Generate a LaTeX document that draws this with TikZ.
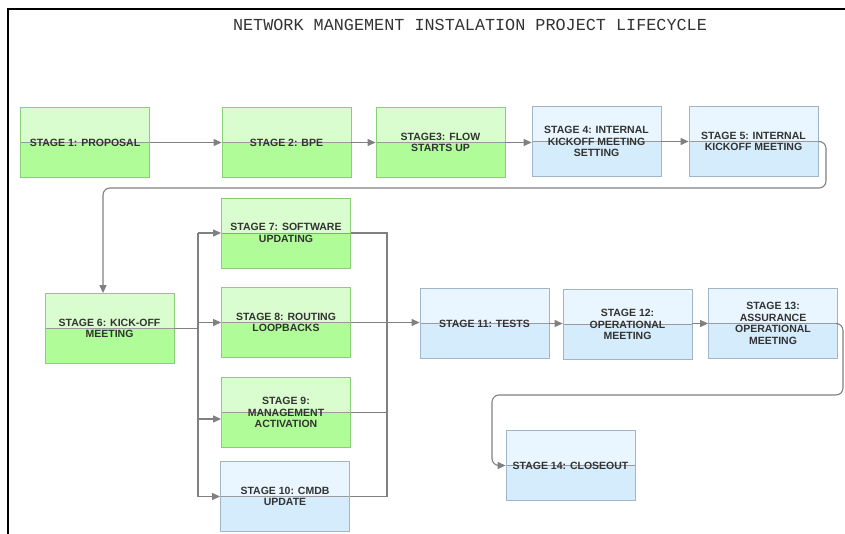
\documentclass[tikz,border=0pt]{standalone}
\usepackage{fontspec}
\setmainfont{Liberation Sans}
\newfontfamily\titlefont{Liberation Mono}
\usetikzlibrary{arrows.meta,calc}
\definecolor{gtop}{RGB}{217,253,206}
\definecolor{gbot}{RGB}{176,252,152}
\definecolor{gbord}{RGB}{140,205,120}
\definecolor{btop}{RGB}{233,246,255}
\definecolor{bbot}{RGB}{212,236,252}
\definecolor{bbord}{RGB}{160,182,198}
\definecolor{conn}{RGB}{128,128,128}
\definecolor{txt}{RGB}{51,51,51}
\tikzset{
  box/.style={rectangle, minimum width=129pt, minimum height=70pt, inner sep=2pt,
    align=center, text=txt, font=\bfseries\fontsize{10.5}{11.5}\selectfont, line width=0.8pt},
  greenbox/.style={box, draw=gbord, fill=gbot,
    path picture={\fill[gtop] (path picture bounding box.north west) rectangle (path picture bounding box.east);
      \draw[conn!80, line width=0.5pt] (path picture bounding box.west) -- (path picture bounding box.east);}},
  bluebox/.style={box, draw=bbord, fill=bbot,
    path picture={\fill[btop] (path picture bounding box.north west) rectangle (path picture bounding box.east);
      \draw[conn!80, line width=0.5pt] (path picture bounding box.west) -- (path picture bounding box.east);}},
  connector/.style={draw=conn, line width=1.1pt},
  arrowed/.style={connector, -{Triangle[length=8pt,width=7pt]}},
}
\begin{document}
\begin{tikzpicture}[x=1pt,y=-1pt]
\useasboundingbox (0,0) rectangle (845,534);
\draw[line width=2pt] (8,534) -- (8,9) -- (846,9);
\node[text=txt, font=\titlefont\fontsize{16.8}{18}\selectfont] (title) at (470,25) {NETWORK MANGEMENT INSTALATION PROJECT LIFECYCLE};

\node[greenbox] (s1) at (85,142.5) {STAGE 1: PROPOSAL};
\node[greenbox] (s2) at (286.5,142.5) {STAGE 2: BPE};
\node[greenbox] (s3) at (440.5,142.5) {STAGE3: FLOW\\STARTS UP};
\node[bluebox] (s4) at (596.5,141.5) {STAGE 4: INTERNAL\\KICKOFF MEETING\\SETTING};
\node[bluebox] (s5) at (753.5,141.5) {STAGE 5: INTERNAL\\KICKOFF MEETING};
\node[greenbox] (s6) at (109.5,328.5) {STAGE 6: KICK-OFF\\MEETING};
\node[greenbox] (s7) at (286,233) {STAGE 7: SOFTWARE\\UPDATING};
\node[greenbox] (s8) at (286,322.5) {STAGE 8: ROUTING\\LOOPBACKS};
\node[greenbox] (s9) at (286,412.5) {STAGE 9:\\MANAGEMENT\\ACTIVATION};
\node[bluebox] (s10) at (285,496.5) {STAGE 10: CMDB\\UPDATE};
\node[bluebox] (s11) at (484.5,323.5) {STAGE 11: TESTS};
\node[bluebox] (s12) at (627.5,324.5) {STAGE 12:\\OPERATIONAL\\MEETING};
\node[bluebox] (s13) at (773,323.5) {STAGE 13:\\ASSURANCE\\OPERATIONAL\\MEETING};
\node[bluebox] (s14) at (570.5,465.5) {STAGE 14: CLOSEOUT};

\coordinate (l6) at (198,328.5);
\coordinate (r7) at (387,233);
\coordinate (r10) at (387,496.5);

\draw[arrowed] (s1) -- (s2);
\draw[arrowed] (s2) -- (s3);
\draw[arrowed] (s3.east) -- (s4.west |- s3.east);
\draw[arrowed] (s4) -- (s5);
\draw[arrowed, rounded corners=7pt] (s5.east) -- (826,141.5) -- (826,188) -- (103,188) -- (s6.north -| 103,0);

\draw[connector] (s6.east) -- (l6);
\draw[connector] (198,233) -- (198,496.5);
\draw[arrowed] (198,233) -- (s7.west);
\draw[arrowed] (198,322.5) -- (s8.west);
\draw[arrowed] (198,419) -- ([yshift=-6.5pt]s9.west);
\draw[arrowed] (198,496.5) -- (s10.west);

\draw[connector] (s7.east) -- (r7) -- (r10) -- (s10.east);
\draw[connector] (s9.east) -- (387,412.5);
\draw[arrowed] (s8.east) -- (s11.west |- s8.east);

\draw[arrowed] (s11.east) -- (s12.west |- s11.east);
\draw[arrowed] (s12.west -| s12.east) ++(0,-1) -- (s13.west);
\draw[arrowed, rounded corners=7pt] (s13.east) -- (843,323.5) -- (843,395) -- (492,395) -- (492,465.5) -- (s14.west);
\end{tikzpicture}
\end{document}
